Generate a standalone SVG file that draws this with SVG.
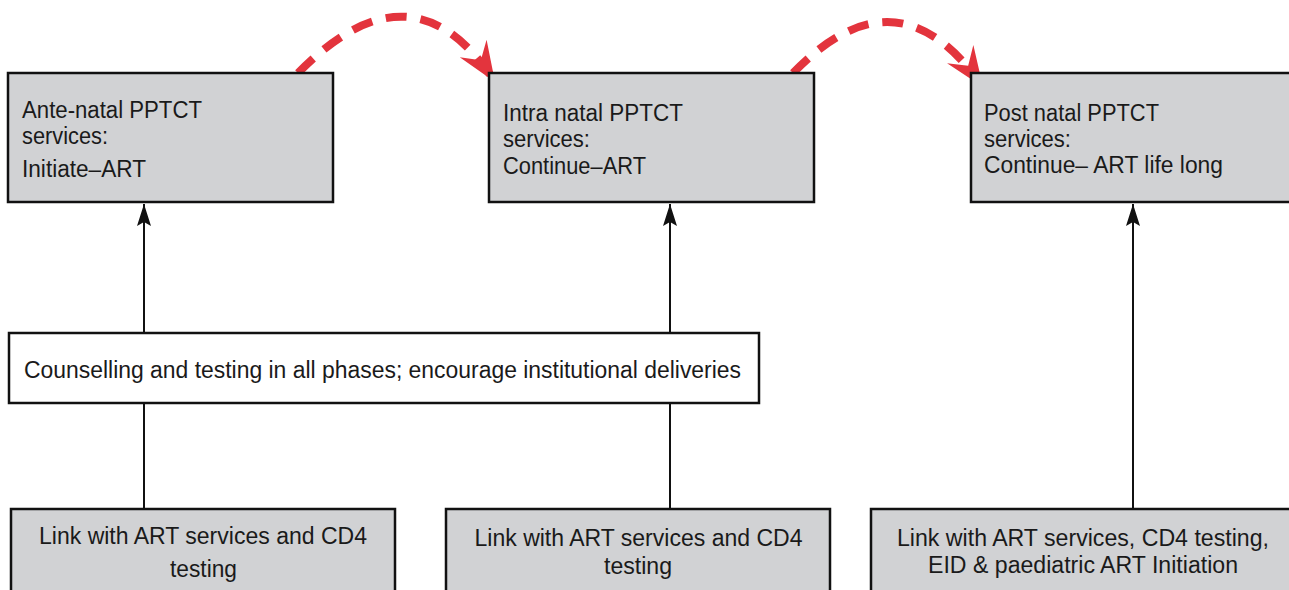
<svg xmlns="http://www.w3.org/2000/svg" width="1289" height="590" viewBox="0 0 1289 590">
<style>
.box{fill:#d1d2d4;stroke:#111;stroke-width:2.5}
.wbox{fill:#fff;stroke:#111;stroke-width:2.5}
text{font-family:"Liberation Sans",Arial,sans-serif;font-size:23px;fill:#1a1a1a}
.c{text-anchor:middle}
.link{fill:none;stroke:#111;stroke-width:2}
.red{fill:none;stroke:#e3343d;stroke-width:8;stroke-dasharray:21 14}
</style>
<defs>
<marker id="ah" markerUnits="userSpaceOnUse" orient="auto" markerWidth="24" markerHeight="16" viewBox="-23 -8 24 16" refX="0" refY="0" overflow="visible">
<path d="M0,0 L-22,-7 L-18,0 L-22,7 Z" fill="#111"/>
</marker>
<marker id="rh" markerUnits="userSpaceOnUse" orient="auto" markerWidth="42" markerHeight="34" viewBox="-41 -17 42 34" refX="0" refY="0" overflow="visible">
<path d="M0,0 L-40,-16 L-26,0 L-40,16 Z" fill="#e3343d"/>
</marker>
</defs>
<g id="connectors">
<line class="link" x1="144" y1="509" x2="144" y2="204" marker-end="url(#ah)"/>
<line class="link" x1="670" y1="509" x2="670" y2="204" marker-end="url(#ah)"/>
<line class="link" x1="1133" y1="509" x2="1133" y2="204" marker-end="url(#ah)"/>
<path class="red" d="M298,73 Q413,-44 495,82" marker-end="url(#rh)"/>
<path class="red" d="M793,73 Q898,-35.5 983,87" marker-end="url(#rh)"/>
</g>
<g id="antenatal">
<rect class="box" x="8" y="73" width="325" height="129"/>
<text x="22" y="118" textLength="180" lengthAdjust="spacingAndGlyphs">Ante-natal PPTCT</text>
<text x="22" y="144" textLength="86" lengthAdjust="spacingAndGlyphs">services:</text>
<text x="22" y="177" textLength="124" lengthAdjust="spacingAndGlyphs">Initiate–ART</text>
</g>
<g id="intranatal">
<rect class="box" x="489" y="73" width="325" height="129"/>
<text x="503" y="121" textLength="180" lengthAdjust="spacingAndGlyphs">Intra natal PPTCT</text>
<text x="503" y="147" textLength="87" lengthAdjust="spacingAndGlyphs">services:</text>
<text x="503" y="174" textLength="143" lengthAdjust="spacingAndGlyphs">Continue–ART</text>
</g>
<g id="postnatal">
<rect class="box" x="971" y="73" width="330" height="129"/>
<text x="984" y="121" textLength="175" lengthAdjust="spacingAndGlyphs">Post natal PPTCT</text>
<text x="984" y="147" textLength="87" lengthAdjust="spacingAndGlyphs">services:</text>
<text x="984" y="173" textLength="239" lengthAdjust="spacingAndGlyphs">Continue– ART life long</text>
</g>
<g id="counselling">
<rect class="wbox" x="9" y="333" width="750" height="70"/>
<text x="24" y="378" textLength="717" lengthAdjust="spacingAndGlyphs">Counselling and testing in all phases; encourage institutional deliveries</text>
</g>
<g id="link1">
<rect class="box" x="11" y="509" width="384" height="90"/>
<text class="c" x="203" y="544" textLength="328" lengthAdjust="spacingAndGlyphs">Link with ART services and CD4</text>
<text class="c" x="203.5" y="577" textLength="67" lengthAdjust="spacingAndGlyphs">testing</text>
</g>
<g id="link2">
<rect class="box" x="446" y="509" width="384" height="90"/>
<text class="c" x="638.5" y="546" textLength="328" lengthAdjust="spacingAndGlyphs">Link with ART services and CD4</text>
<text class="c" x="638" y="574" textLength="68" lengthAdjust="spacingAndGlyphs">testing</text>
</g>
<g id="link3">
<rect class="box" x="871" y="509" width="430" height="90"/>
<text class="c" x="1083" y="546" textLength="372" lengthAdjust="spacingAndGlyphs">Link with ART services, CD4 testing,</text>
<text class="c" x="1083" y="573" textLength="310" lengthAdjust="spacingAndGlyphs">EID &amp; paediatric ART Initiation</text>
</g>
</svg>
